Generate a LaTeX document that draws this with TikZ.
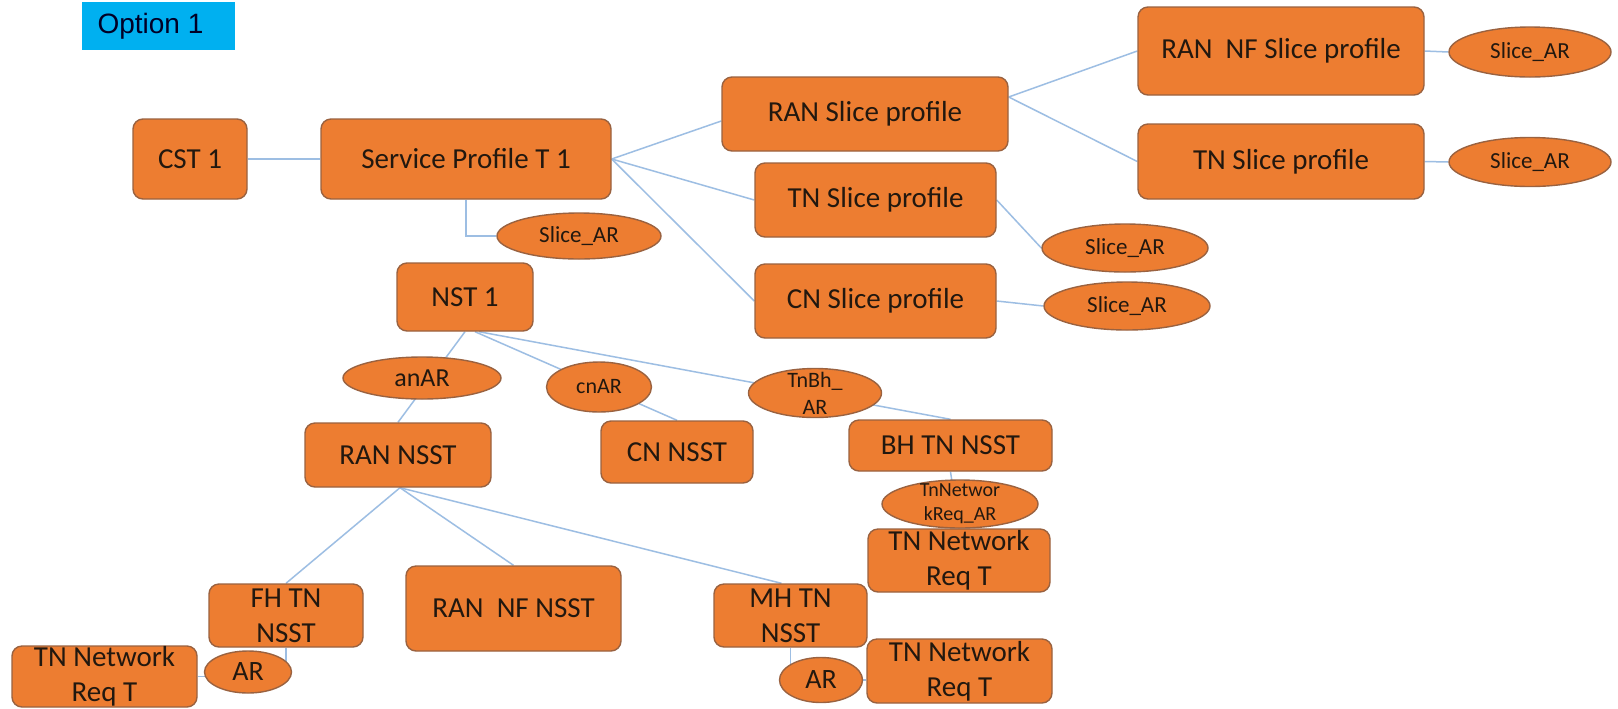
\documentclass[tikz,border=0pt]{standalone}
\usepackage{fontspec}
\setmainfont{Carlito}
\newfontfamily\optfont{Liberation Sans}
\usetikzlibrary{shapes.geometric,calc}
\pgfdeclarelayer{bg}
\pgfsetlayers{bg,main}
\definecolor{orfill}{HTML}{ED7D31}
\definecolor{ordraw}{HTML}{9A6240}
\definecolor{connc}{HTML}{9DBEE3}
\definecolor{txtc}{HTML}{22180F}
\definecolor{optfill}{HTML}{00B0F0}
\begin{document}
\begin{tikzpicture}[x=0.5pt,y=-0.5pt,
 box/.style={draw=ordraw, fill=orfill, rounded corners=5pt, line width=0.7pt, text=txtc, inner sep=0pt, align=center, font=\fontsize{14.5}{17.5}\selectfont},
 oval/.style={ellipse, draw=ordraw, fill=orfill, line width=0.7pt, text=txtc, inner xsep=0pt, inner ysep=-7pt, align=center},
 sar/.style={oval, font=\fontsize{11.5}{13}\selectfont},
 optbox/.style={fill=optfill, inner sep=0pt, text=black!85!blue, font=\optfont\fontsize{14}{16}\selectfont},
 conn/.style={draw=connc, line width=0.75pt}]
\useasboundingbox (0,0) rectangle (1618,708);

\node[optbox, minimum width=76.5pt, minimum height=24pt] (opt) at (158.5,26) {Option 1\hspace*{8pt}};

\node[box, minimum width=57pt, minimum height=40pt] (CST) at (190,159) {CST 1};
\node[box, minimum width=145pt, minimum height=40pt] (SP) at (466,159) {Service Profile T 1};
\node[sar, minimum width=82pt, minimum height=23pt] (SARsp) at (579,236) {Slice\_AR};

\node[box, minimum width=143pt, minimum height=37pt] (RANSP) at (865,114) {RAN Slice profile};
\node[box, minimum width=120.5pt, minimum height=37pt] (TNSPm) at (875.5,200) {TN Slice profile};
\node[box, minimum width=120.5pt, minimum height=37pt] (CNSP) at (875.5,301) {CN Slice profile};
\node[box, minimum width=143pt, minimum height=44pt] (RANNF) at (1281,51) {RAN~~NF Slice profile};
\node[box, minimum width=143pt, minimum height=37.5pt] (TNSPr) at (1281,161.5) {TN Slice profile};

\node[sar, minimum width=81pt, minimum height=25pt] (SAR1) at (1530,52) {Slice\_AR};
\node[sar, minimum width=81pt, minimum height=24.5pt] (SAR2) at (1530,162) {Slice\_AR};
\node[sar, minimum width=83pt, minimum height=24pt] (SAR3) at (1125,248) {Slice\_AR};
\node[sar, minimum width=83pt, minimum height=24pt] (SAR4) at (1127,306) {Slice\_AR};

\node[box, minimum width=68pt, minimum height=34pt] (NST) at (465,297) {NST 1};
\node[oval, minimum width=79pt, minimum height=21pt, font=\fontsize{13}{15}\selectfont] (anAR) at (422,378) {anAR};
\node[oval, minimum width=52.5pt, minimum height=25pt, font=\fontsize{11}{13}\selectfont] (cnAR) at (599,387) {cnAR};
\node[oval, minimum width=66.5pt, minimum height=24.5pt, font=\fontsize{11}{13.5}\selectfont] (TnBh) at (815,393) {TnBh\_\\AR};

\node[box, minimum width=93pt, minimum height=32pt] (RANNSST) at (398,455) {RAN NSST};
\node[box, minimum width=76pt, minimum height=31pt] (CNNSST) at (677,452) {CN NSST};
\node[box, minimum width=101.5pt, minimum height=25.5pt] (BHTN) at (950.5,445.5) {BH TN NSST};
\node[oval, minimum width=78pt, minimum height=24pt, font=\fontsize{10}{12}\selectfont] (TnNet) at (960,504) {TnNetwor\\kReq\_AR};
\node[box, minimum width=91pt, minimum height=31.5pt] (TNReqU) at (959,560.5) {TN Network\\Req T};

\node[box, minimum width=77pt, minimum height=31.5pt] (FHTN) at (286,615.5) {FH TN\\NSST};
\node[box, minimum width=107.5pt, minimum height=42.5pt] (RANNFNSST) at (513.5,608.5) {RAN~~NF NSST};
\node[box, minimum width=76.5pt, minimum height=31.5pt] (MHTN) at (790.5,615.5) {MH TN\\NSST};

\node[box, minimum width=92.5pt, minimum height=30.5pt] (TNReqL) at (104.5,676.5) {TN Network\\Req T};
\node[oval, minimum width=43.5pt, minimum height=21pt, font=\fontsize{14}{16}\selectfont] (ARl) at (248,672) {AR};
\node[oval, minimum width=41.5pt, minimum height=22.5pt, font=\fontsize{14}{16}\selectfont] (ARr) at (821,680) {AR};
\node[box, minimum width=92.5pt, minimum height=32pt] (TNReqR) at (959.5,671) {TN Network\\Req T};

\begin{pgfonlayer}{bg}
\fill[white] (0,0) rectangle (1618,708);
\draw[conn] (CST.east) -- (SP.west);
\draw[conn] (SP.east) -- ($(RANSP.west)+(0,7)$);
\draw[conn] (SP.east) -- (TNSPm.west);
\draw[conn] (SP.east) -- (CNSP.west);
\draw[conn] ($(RANSP.east)+(0,-17)$) -- (RANNF.west);
\draw[conn] ($(RANSP.east)+(0,-17)$) -- (TNSPr.west);
\draw[conn] (RANNF.east) -- (SAR1.west);
\draw[conn] (TNSPr.east) -- (SAR2.west);
\draw[conn] (TNSPm.east) -- (SAR3.west);
\draw[conn] (CNSP.east) -- (SAR4.west);
\draw[conn] (SP.south) |- (SARsp.west);
\draw[conn] (NST.south) -- (RANNSST.north);
\draw[conn] ($(NST.south)+(10,0)$) -- (CNNSST.north);
\draw[conn] ($(NST.south)+(14,0)$) -- (BHTN.north);
\draw[conn] (BHTN.south) -- (TNReqU.north);
\draw[conn] ($(RANNSST.south)+(2,0)$) -- (FHTN.north);
\draw[conn] ($(RANNSST.south)+(2,0)$) -- (RANNFNSST.north);
\draw[conn] ($(RANNSST.south)+(2,0)$) -- ($(MHTN.north)+(-9,0)$);
\draw[conn] (FHTN.south) -- (FHTN.south |- ARl.center);
\draw[conn] (TNReqL.east) -- (TNReqL.east -| ARl.center);
\draw[conn] (MHTN.south) -- (MHTN.south |- ARr.center);
\draw[conn] (ARr.center) -- (ARr.center -| TNReqR.west);
\end{pgfonlayer}
\end{tikzpicture}
\end{document}
